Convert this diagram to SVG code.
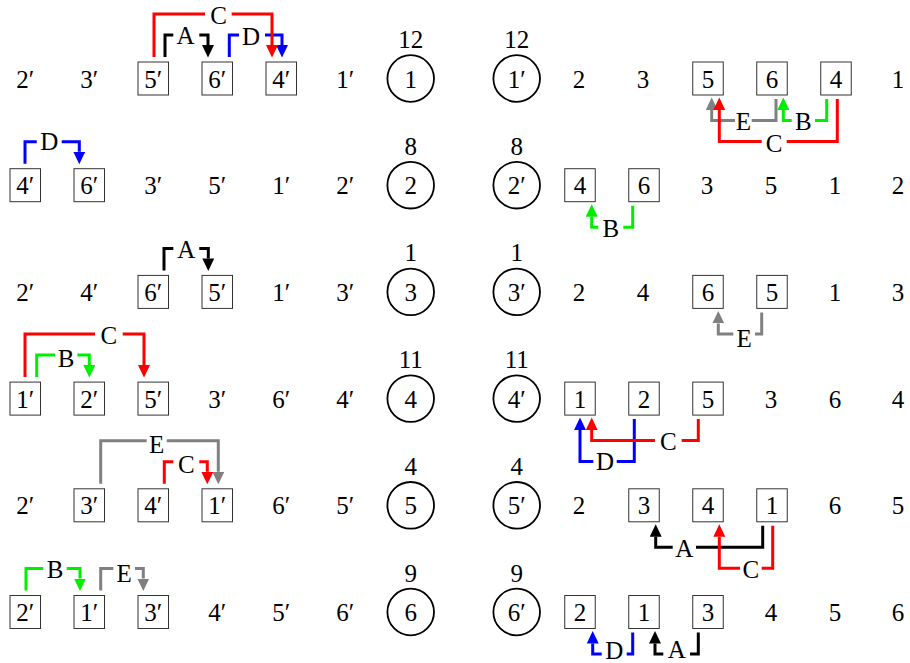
<svg xmlns="http://www.w3.org/2000/svg" width="910" height="663" viewBox="0 0 910 663">
  <defs>
    <style>
      .t { font-family: "Liberation Serif", "DejaVu Serif", serif; font-size: 25px; text-anchor: middle; fill: #000; }
      .bx { fill: none; stroke: #333; stroke-width: 1; }
      .cr { fill: none; stroke: #000; stroke-width: 1.8; }
      .c { fill: none; stroke-width: 3; stroke-linejoin: miter; stroke-linecap: butt; }
      .k { stroke: #000; marker-end: url(#mk); }
      .r { stroke: #ff0000; marker-end: url(#mr); }
      .b { stroke: #0000ff; marker-end: url(#mb); }
      .g { stroke: #00ee00; marker-end: url(#mg); }
      .e { stroke: #808080; marker-end: url(#me); }
    </style>
    <marker id="mk" markerUnits="userSpaceOnUse" markerWidth="13" markerHeight="13" refX="0" refY="6" orient="auto"><path d="M0,0 L12.5,6 L0,12 Z" fill="#000"/></marker>
    <marker id="mr" markerUnits="userSpaceOnUse" markerWidth="13" markerHeight="13" refX="0" refY="6" orient="auto"><path d="M0,0 L12.5,6 L0,12 Z" fill="#ff0000"/></marker>
    <marker id="mb" markerUnits="userSpaceOnUse" markerWidth="13" markerHeight="13" refX="0" refY="6" orient="auto"><path d="M0,0 L12.5,6 L0,12 Z" fill="#0000ff"/></marker>
    <marker id="mg" markerUnits="userSpaceOnUse" markerWidth="13" markerHeight="13" refX="0" refY="6" orient="auto"><path d="M0,0 L12.5,6 L0,12 Z" fill="#00ee00"/></marker>
    <marker id="me" markerUnits="userSpaceOnUse" markerWidth="13" markerHeight="13" refX="0" refY="6" orient="auto"><path d="M0,0 L12.5,6 L0,12 Z" fill="#808080"/></marker>
  </defs>
  <rect width="910" height="663" fill="#fff"/>

  <!-- Row 1 -->
  <g id="r1-l1"><text class="t" x="25.3" y="87.5">2′</text></g>
  <g id="r1-l2"><text class="t" x="89.3" y="87.5">3′</text></g>
  <g id="r1-l3"><rect class="bx" x="138" y="62" width="30.5" height="33"/><text class="t" x="153.3" y="87.5">5′</text></g>
  <g id="r1-l4"><rect class="bx" x="202" y="62" width="30.5" height="33"/><text class="t" x="217.3" y="87.5">6′</text></g>
  <g id="r1-l5"><rect class="bx" x="266" y="62" width="30.5" height="33"/><text class="t" x="281.3" y="87.5">4′</text></g>
  <g id="r1-l6"><text class="t" x="345.3" y="87.5">1′</text></g>
  <g id="r1-lc"><circle class="cr" cx="410.7" cy="78.5" r="23.3"/><text class="t" x="410.7" y="87.5">1</text><text class="t" x="410.7" y="48">12</text></g>
  <g id="r1-rc"><circle class="cr" cx="516.7" cy="78.5" r="23.3"/><text class="t" x="516.7" y="87.5">1′</text><text class="t" x="516.7" y="48">12</text></g>
  <g id="r1-r1"><text class="t" x="579" y="87.5">2</text></g>
  <g id="r1-r2"><text class="t" x="643" y="87.5">3</text></g>
  <g id="r1-r3"><rect class="bx" x="692.75" y="62" width="30.5" height="33"/><text class="t" x="708" y="87.5">5</text></g>
  <g id="r1-r4"><rect class="bx" x="756.75" y="62" width="30.5" height="33"/><text class="t" x="772" y="87.5">6</text></g>
  <g id="r1-r5"><rect class="bx" x="820.75" y="62" width="30.5" height="33"/><text class="t" x="836" y="87.5">4</text></g>
  <g id="r1-r6"><text class="t" x="898" y="87.5">1</text></g>

  <!-- Row 2 -->
  <g id="r2-l1"><rect class="bx" x="10" y="168.7" width="30.5" height="33"/><text class="t" x="25.3" y="194.2">4′</text></g>
  <g id="r2-l2"><rect class="bx" x="74" y="168.7" width="30.5" height="33"/><text class="t" x="89.3" y="194.2">6′</text></g>
  <g id="r2-l3"><text class="t" x="153.3" y="194.2">3′</text></g>
  <g id="r2-l4"><text class="t" x="217.3" y="194.2">5′</text></g>
  <g id="r2-l5"><text class="t" x="281.3" y="194.2">1′</text></g>
  <g id="r2-l6"><text class="t" x="345.3" y="194.2">2′</text></g>
  <g id="r2-lc"><circle class="cr" cx="410.7" cy="185.2" r="23.3"/><text class="t" x="410.7" y="194.2">2</text><text class="t" x="410.7" y="154.7">8</text></g>
  <g id="r2-rc"><circle class="cr" cx="516.7" cy="185.2" r="23.3"/><text class="t" x="516.7" y="194.2">2′</text><text class="t" x="516.7" y="154.7">8</text></g>
  <g id="r2-r1"><rect class="bx" x="564.75" y="168.7" width="30.5" height="33"/><text class="t" x="580" y="194.2">4</text></g>
  <g id="r2-r2"><rect class="bx" x="628.75" y="168.7" width="30.5" height="33"/><text class="t" x="644" y="194.2">6</text></g>
  <g id="r2-r3"><text class="t" x="707" y="194.2">3</text></g>
  <g id="r2-r4"><text class="t" x="771" y="194.2">5</text></g>
  <g id="r2-r5"><text class="t" x="835" y="194.2">1</text></g>
  <g id="r2-r6"><text class="t" x="898" y="194.2">2</text></g>

  <!-- Row 3 -->
  <g id="r3-l1"><text class="t" x="25.3" y="300.9">2′</text></g>
  <g id="r3-l2"><text class="t" x="89.3" y="300.9">4′</text></g>
  <g id="r3-l3"><rect class="bx" x="138" y="275.4" width="30.5" height="33"/><text class="t" x="153.3" y="300.9">6′</text></g>
  <g id="r3-l4"><rect class="bx" x="202" y="275.4" width="30.5" height="33"/><text class="t" x="217.3" y="300.9">5′</text></g>
  <g id="r3-l5"><text class="t" x="281.3" y="300.9">1′</text></g>
  <g id="r3-l6"><text class="t" x="345.3" y="300.9">3′</text></g>
  <g id="r3-lc"><circle class="cr" cx="410.7" cy="291.9" r="23.3"/><text class="t" x="410.7" y="300.9">3</text><text class="t" x="410.7" y="261.4">1</text></g>
  <g id="r3-rc"><circle class="cr" cx="516.7" cy="291.9" r="23.3"/><text class="t" x="516.7" y="300.9">3′</text><text class="t" x="516.7" y="261.4">1</text></g>
  <g id="r3-r1"><text class="t" x="579" y="300.9">2</text></g>
  <g id="r3-r2"><text class="t" x="643" y="300.9">4</text></g>
  <g id="r3-r3"><rect class="bx" x="692.75" y="275.4" width="30.5" height="33"/><text class="t" x="708" y="300.9">6</text></g>
  <g id="r3-r4"><rect class="bx" x="756.75" y="275.4" width="30.5" height="33"/><text class="t" x="772" y="300.9">5</text></g>
  <g id="r3-r5"><text class="t" x="835" y="300.9">1</text></g>
  <g id="r3-r6"><text class="t" x="898" y="300.9">3</text></g>

  <!-- Row 4 -->
  <g id="r4-l1"><rect class="bx" x="10" y="382.1" width="30.5" height="33"/><text class="t" x="25.3" y="407.6">1′</text></g>
  <g id="r4-l2"><rect class="bx" x="74" y="382.1" width="30.5" height="33"/><text class="t" x="89.3" y="407.6">2′</text></g>
  <g id="r4-l3"><rect class="bx" x="138" y="382.1" width="30.5" height="33"/><text class="t" x="153.3" y="407.6">5′</text></g>
  <g id="r4-l4"><text class="t" x="217.3" y="407.6">3′</text></g>
  <g id="r4-l5"><text class="t" x="281.3" y="407.6">6′</text></g>
  <g id="r4-l6"><text class="t" x="345.3" y="407.6">4′</text></g>
  <g id="r4-lc"><circle class="cr" cx="410.7" cy="398.6" r="23.3"/><text class="t" x="410.7" y="407.6">4</text><text class="t" x="410.7" y="368.1">11</text></g>
  <g id="r4-rc"><circle class="cr" cx="516.7" cy="398.6" r="23.3"/><text class="t" x="516.7" y="407.6">4′</text><text class="t" x="516.7" y="368.1">11</text></g>
  <g id="r4-r1"><rect class="bx" x="564.75" y="382.1" width="30.5" height="33"/><text class="t" x="580" y="407.6">1</text></g>
  <g id="r4-r2"><rect class="bx" x="628.75" y="382.1" width="30.5" height="33"/><text class="t" x="644" y="407.6">2</text></g>
  <g id="r4-r3"><rect class="bx" x="692.75" y="382.1" width="30.5" height="33"/><text class="t" x="708" y="407.6">5</text></g>
  <g id="r4-r4"><text class="t" x="771" y="407.6">3</text></g>
  <g id="r4-r5"><text class="t" x="835" y="407.6">6</text></g>
  <g id="r4-r6"><text class="t" x="898" y="407.6">4</text></g>

  <!-- Row 5 -->
  <g id="r5-l1"><text class="t" x="25.3" y="514.3">2′</text></g>
  <g id="r5-l2"><rect class="bx" x="74" y="488.8" width="30.5" height="33"/><text class="t" x="89.3" y="514.3">3′</text></g>
  <g id="r5-l3"><rect class="bx" x="138" y="488.8" width="30.5" height="33"/><text class="t" x="153.3" y="514.3">4′</text></g>
  <g id="r5-l4"><rect class="bx" x="202" y="488.8" width="30.5" height="33"/><text class="t" x="217.3" y="514.3">1′</text></g>
  <g id="r5-l5"><text class="t" x="281.3" y="514.3">6′</text></g>
  <g id="r5-l6"><text class="t" x="345.3" y="514.3">5′</text></g>
  <g id="r5-lc"><circle class="cr" cx="410.7" cy="505.3" r="23.3"/><text class="t" x="410.7" y="514.3">5</text><text class="t" x="410.7" y="474.8">4</text></g>
  <g id="r5-rc"><circle class="cr" cx="516.7" cy="505.3" r="23.3"/><text class="t" x="516.7" y="514.3">5′</text><text class="t" x="516.7" y="474.8">4</text></g>
  <g id="r5-r1"><text class="t" x="579" y="514.3">2</text></g>
  <g id="r5-r2"><rect class="bx" x="628.75" y="488.8" width="30.5" height="33"/><text class="t" x="644" y="514.3">3</text></g>
  <g id="r5-r3"><rect class="bx" x="692.75" y="488.8" width="30.5" height="33"/><text class="t" x="708" y="514.3">4</text></g>
  <g id="r5-r4"><rect class="bx" x="756.75" y="488.8" width="30.5" height="33"/><text class="t" x="772" y="514.3">1</text></g>
  <g id="r5-r5"><text class="t" x="835" y="514.3">6</text></g>
  <g id="r5-r6"><text class="t" x="898" y="514.3">5</text></g>

  <!-- Row 6 -->
  <g id="r6-l1"><rect class="bx" x="10" y="595.5" width="30.5" height="33"/><text class="t" x="25.3" y="621">2′</text></g>
  <g id="r6-l2"><rect class="bx" x="74" y="595.5" width="30.5" height="33"/><text class="t" x="89.3" y="621">1′</text></g>
  <g id="r6-l3"><rect class="bx" x="138" y="595.5" width="30.5" height="33"/><text class="t" x="153.3" y="621">3′</text></g>
  <g id="r6-l4"><text class="t" x="217.3" y="621">4′</text></g>
  <g id="r6-l5"><text class="t" x="281.3" y="621">5′</text></g>
  <g id="r6-l6"><text class="t" x="345.3" y="621">6′</text></g>
  <g id="r6-lc"><circle class="cr" cx="410.7" cy="612" r="23.3"/><text class="t" x="410.7" y="621">6</text><text class="t" x="410.7" y="581.5">9</text></g>
  <g id="r6-rc"><circle class="cr" cx="516.7" cy="612" r="23.3"/><text class="t" x="516.7" y="621">6′</text><text class="t" x="516.7" y="581.5">9</text></g>
  <g id="r6-r1"><rect class="bx" x="564.75" y="595.5" width="30.5" height="33"/><text class="t" x="580" y="621">2</text></g>
  <g id="r6-r2"><rect class="bx" x="628.75" y="595.5" width="30.5" height="33"/><text class="t" x="644" y="621">1</text></g>
  <g id="r6-r3"><rect class="bx" x="692.75" y="595.5" width="30.5" height="33"/><text class="t" x="708" y="621">3</text></g>
  <g id="r6-r4"><text class="t" x="771" y="621">4</text></g>
  <g id="r6-r5"><text class="t" x="835" y="621">5</text></g>
  <g id="r6-r6"><text class="t" x="898" y="621">6</text></g>

  <!-- Connectors: elbow arrows, the line broken around its letter -->
  <g id="connectors">
    <!-- row 1, primed side (above) -->
    <path class="c k" d="M165,57 V35 H173.3 M199.3,35 H208 V45"/>
    <path class="c b" d="M229.3,57 V35 H239 M265,35 H282 V45"/>
    <path class="c r" d="M154,57 V14 H205 M231.7,14 H272 V45"/>
    <text class="t" x="185.5" y="43.5">A</text>
    <text class="t" x="251" y="44.5">D</text>
    <text class="t" x="218.5" y="24">C</text>
    <!-- row 1, plain side (below) -->
    <path class="c e" d="M776,99 V120.5 H751.7 M735,120.5 H711.7 V110"/>
    <path class="c g" d="M826.7,99 V120.5 H815 M791.7,120.5 H783.3 V110"/>
    <path class="c r" d="M837.3,99 V141.5 H786.7 M761.7,141.5 H719.3 V110"/>
    <text class="t" x="743.3" y="130">E</text>
    <text class="t" x="803.3" y="130">B</text>
    <text class="t" x="774.2" y="152">C</text>

    <!-- row 2 -->
    <path class="c b" d="M25,163.7 V141.7 H36.7 M61.7,141.7 H79.3 V151.7"/>
    <text class="t" x="49.2" y="150">D</text>
    <path class="c g" d="M632.7,205.7 V227.2 H623.3 M598.3,227.2 H591.7 V216.7"/>
    <text class="t" x="610.8" y="236.5">B</text>

    <!-- row 3 -->
    <path class="c k" d="M164,270.4 V248.4 H173.3 M199.3,248.4 H208.3 V258.4"/>
    <text class="t" x="186.3" y="258">A</text>
    <path class="c e" d="M761.7,312.4 V333.9 H755 M733.3,333.9 H718.3 V323.4"/>
    <text class="t" x="744.2" y="346.5">E</text>

    <!-- row 4 -->
    <path class="c r" d="M25,377.1 V334.1 H95 M122.7,334.1 H144 V365.1"/>
    <path class="c g" d="M36.7,377.1 V355.1 H55 M77.3,355.1 H89.3 V365.1"/>
    <text class="t" x="108.8" y="344">C</text>
    <text class="t" x="66.2" y="366.5">B</text>
    <path class="c b" d="M634.3,419.1 V461.6 H616.7 M593.3,461.6 H580 V430.1"/>
    <path class="c r" d="M698.3,419.1 V440.6 H681.7 M655,440.6 H591.7 V430.1"/>
    <text class="t" x="605" y="470">D</text>
    <text class="t" x="668.3" y="449.5">C</text>

    <!-- row 5 -->
    <path class="c e" d="M100.7,483.8 V440.8 H146.7 M166.7,440.8 H218.3 V471.8"/>
    <path class="c r" d="M164.3,483.8 V461.8 H173.3 M199.3,461.8 H207.3 V471.8"/>
    <text class="t" x="156.7" y="453">E</text>
    <text class="t" x="186.3" y="472.5">C</text>
    <path class="c k" d="M762.7,525.8 V547.3 H696 M672.7,547.3 H655.7 V536.8"/>
    <path class="c r" d="M772.7,525.8 V568.3 H761.7 M740,568.3 H719.3 V536.8"/>
    <text class="t" x="684.3" y="556.5">A</text>
    <text class="t" x="750.8" y="578">C</text>

    <!-- row 6 -->
    <path class="c g" d="M26,590.5 V568.5 H43.3 M66.7,568.5 H80 V578.5"/>
    <path class="c e" d="M100.7,590.5 V568.5 H113.3 M135,568.5 H143.3 V578.5"/>
    <text class="t" x="55" y="578">B</text>
    <text class="t" x="124.2" y="581.5">E</text>
    <path class="c b" d="M632.7,632.5 V654 H626.7 M601.7,654 H592.7 V643.5"/>
    <path class="c k" d="M698.3,632.5 V654 H690 M663.3,654 H655 V643.5"/>
    <text class="t" x="614.2" y="658.5">D</text>
    <text class="t" x="676.7" y="658">A</text>
  </g>
</svg>
